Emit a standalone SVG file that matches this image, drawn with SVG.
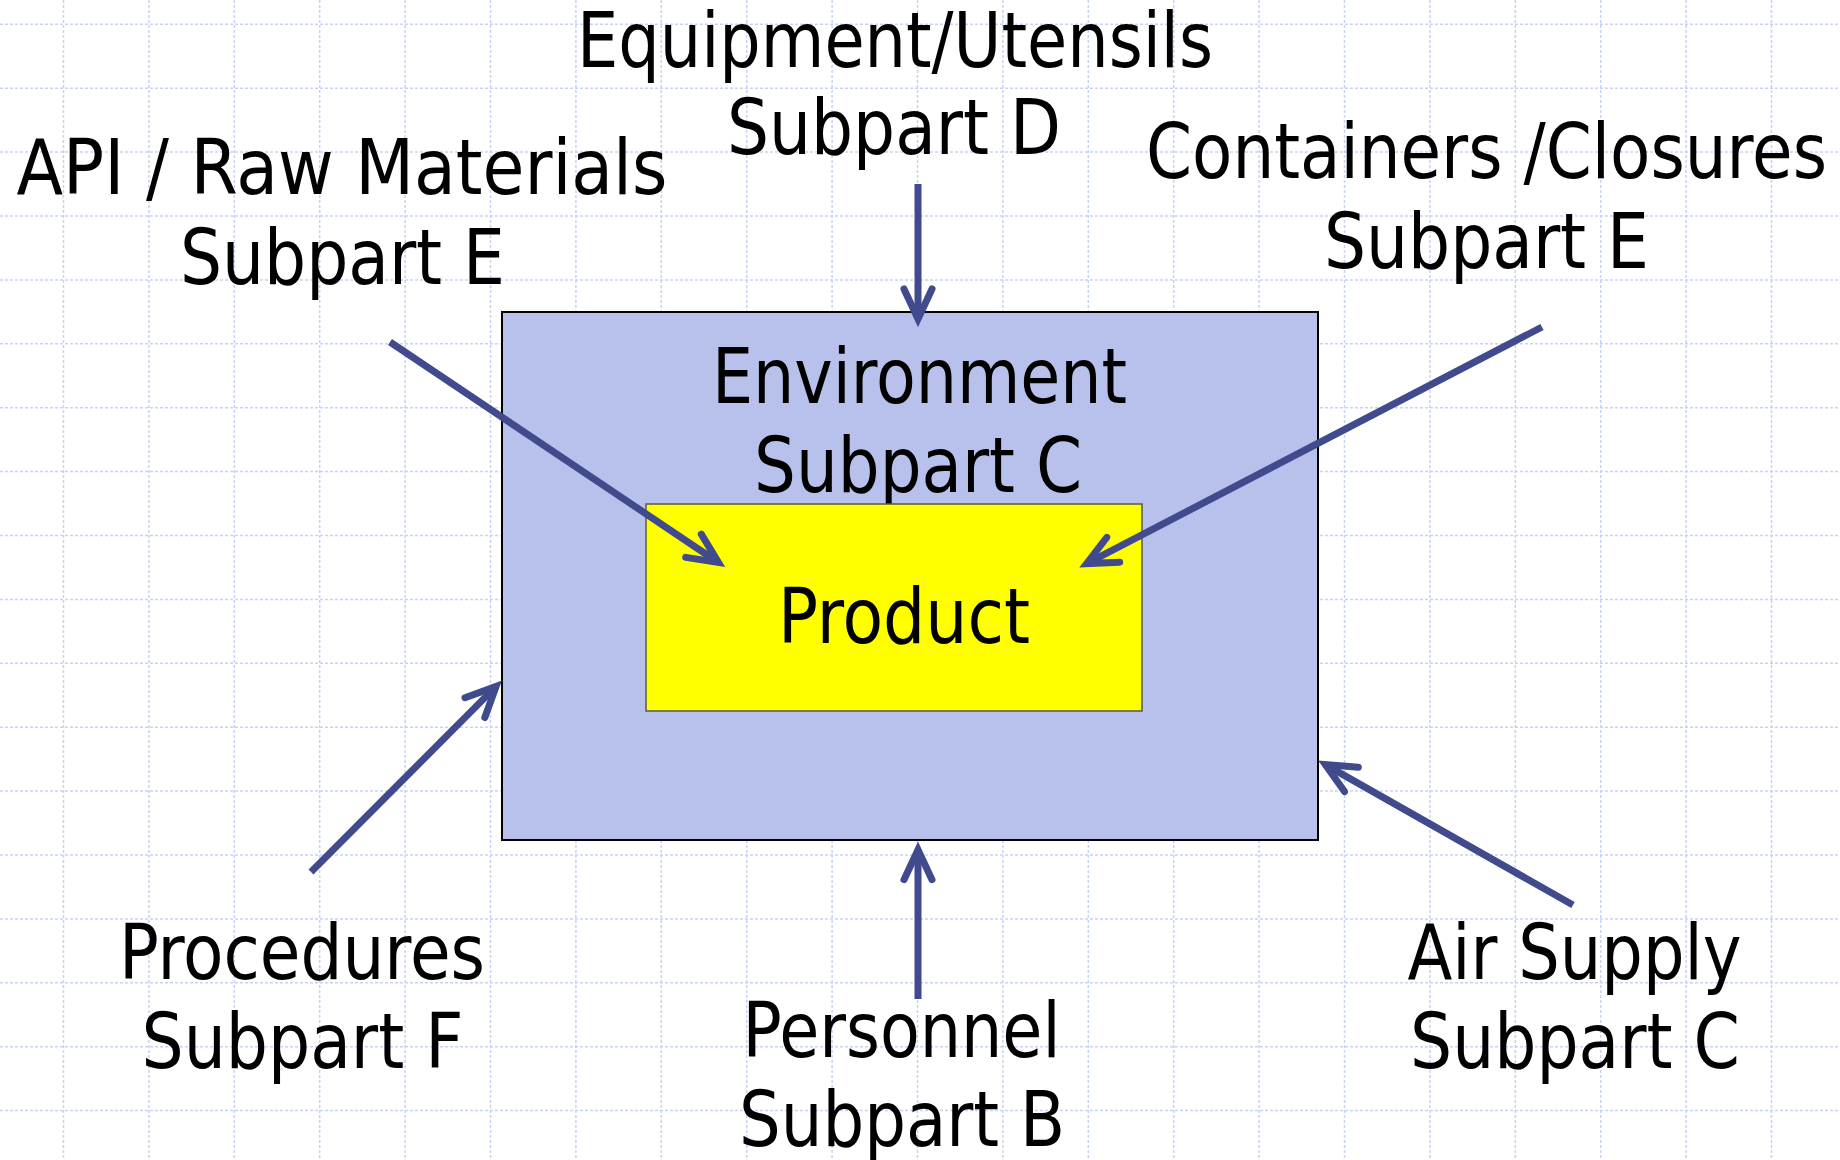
<svg xmlns="http://www.w3.org/2000/svg" width="1840" height="1160" viewBox="0 0 1840 1160">
<style>
.grid{fill:none;stroke:#c6d3f5;stroke-width:1.5;stroke-dasharray:3 2}
.lbl{font-family:"DejaVu Sans Condensed","DejaVu Sans",sans-serif;font-size:76px;fill:#000;text-anchor:middle}
.arr{fill:none;stroke:#414a8c;stroke-width:7;marker-end:url(#ah)}
</style>
<defs>
<marker id="ah" markerUnits="userSpaceOnUse" viewBox="-50 -30 70 60" markerWidth="70" markerHeight="60" refX="0" refY="0" orient="auto" overflow="visible">
<path d="M-30,-14 L0,0 L-30,14" fill="none" stroke="#414a8c" stroke-width="7" stroke-linecap="round" stroke-linejoin="miter" stroke-miterlimit="6"/>
</marker>
</defs>
<rect width="1840" height="1160" fill="#ffffff"/>
<path class="grid" d="M63.5,0V1160M148.9,0V1160M234.3,0V1160M319.7,0V1160M405.1,0V1160M490.5,0V1160M575.9,0V1160M661.3,0V1160M746.7,0V1160M832.1,0V1160M917.5,0V1160M1002.9,0V1160M1088.3,0V1160M1173.7,0V1160M1259.1,0V1160M1344.5,0V1160M1429.9,0V1160M1515.3,0V1160M1600.7,0V1160M1686.1,0V1160M1771.5,0V1160M0,24.3H1840M0,88.2H1840M0,152.1H1840M0,216H1840M0,279.9H1840M0,343.8H1840M0,407.7H1840M0,471.6H1840M0,535.5H1840M0,599.4H1840M0,663.3H1840M0,727.2H1840M0,791.1H1840M0,855H1840M0,918.9H1840M0,982.8H1840M0,1046.7H1840M0,1110.6H1840"/>
<g id="environment">
<rect x="502" y="312" width="816" height="528" fill="#b7c1ec" stroke="#000" stroke-width="2"/>
<text class="lbl" x="919.5" y="402.5" textLength="415" lengthAdjust="spacingAndGlyphs">Environment</text>
<text class="lbl" x="918" y="492" textLength="328" lengthAdjust="spacingAndGlyphs">Subpart C</text>
</g>
<g id="product">
<rect x="646" y="504" width="496" height="207" fill="#ffff00" stroke="#5a5a4a" stroke-width="1.5"/>
<text class="lbl" x="904" y="643" textLength="252" lengthAdjust="spacingAndGlyphs">Product</text>
</g>
<g id="equipment">
<text class="lbl" x="895" y="66.5" textLength="636" lengthAdjust="spacingAndGlyphs">Equipment/Utensils</text>
<text class="lbl" x="894" y="154" textLength="334" lengthAdjust="spacingAndGlyphs">Subpart D</text>
</g>
<g id="api">
<text class="lbl" x="342" y="194" textLength="651" lengthAdjust="spacingAndGlyphs">API / Raw Materials</text>
<text class="lbl" x="342.5" y="284" textLength="325" lengthAdjust="spacingAndGlyphs">Subpart E</text>
</g>
<g id="containers">
<text class="lbl" x="1486.5" y="177.5" textLength="681" lengthAdjust="spacingAndGlyphs">Containers /Closures</text>
<text class="lbl" x="1486.5" y="268" textLength="325" lengthAdjust="spacingAndGlyphs">Subpart E</text>
</g>
<g id="procedures">
<text class="lbl" x="302" y="979" textLength="366" lengthAdjust="spacingAndGlyphs">Procedures</text>
<text class="lbl" x="302.5" y="1067.5" textLength="322" lengthAdjust="spacingAndGlyphs">Subpart F</text>
</g>
<g id="personnel">
<text class="lbl" x="901.5" y="1057" textLength="318" lengthAdjust="spacingAndGlyphs">Personnel</text>
<text class="lbl" x="902" y="1146" textLength="326" lengthAdjust="spacingAndGlyphs">Subpart B</text>
</g>
<g id="airsupply">
<text class="lbl" x="1574.5" y="979" textLength="334" lengthAdjust="spacingAndGlyphs">Air Supply</text>
<text class="lbl" x="1575" y="1067.5" textLength="330" lengthAdjust="spacingAndGlyphs">Subpart C</text>
</g>
<g id="connectors">
<path class="arr" d="M918,184 L918,319"/>
<path class="arr" d="M390,342 L718.4,562.5"/>
<path class="arr" d="M1542,327 L1086.6,563.6"/>
<path class="arr" d="M311,872 L496.1,686.4"/>
<path class="arr" d="M918,999 L918,849.7"/>
<path class="arr" d="M1573,905 L1325.3,764.6"/>
</g>
</svg>
